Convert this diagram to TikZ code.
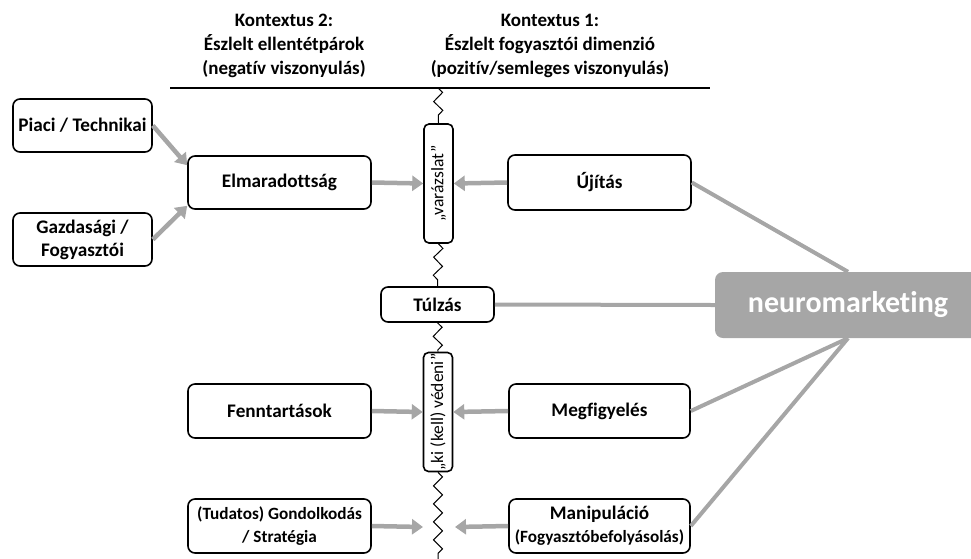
\documentclass[tikz,border=0pt]{standalone}
\usepackage{fontspec}
\setmainfont{Carlito}[Ligatures=NoCommon]
\usetikzlibrary{arrows.meta, decorations.pathmorphing}
\definecolor{LinkGray}{HTML}{A6A6A6}
\definecolor{NeuroGray}{HTML}{A6A6A6}
\newcommand{\smallpart}[1]{{\fontsize{17.2}{23}\selectfont #1}}

\begin{document}
\begin{tikzpicture}[x=1pt, y=-1pt,
        box/.style={draw=black, line width=1.6pt, rounded corners=7pt, fill=white,
                    inner sep=1pt, align=center, font=\fontsize{19.2}{23}\selectfont\bfseries},
        tallbox/.style={draw=black, line width=1.6pt, rounded corners=5pt, fill=white,
                    inner sep=1pt, rotate=90, minimum height=29pt,
                    font=\fontsize{17.5}{18}\selectfont},
        head/.style={align=center, font=\fontsize{19}{24}\selectfont\bfseries},
        flow/.style={draw=LinkGray, line width=4.5pt, -{Triangle[length=11pt,width=15pt]}},
        link/.style={draw=LinkGray, line width=4pt},
        zig/.style={decorate, decoration={zigzag, segment length=18pt, amplitude=4.5pt},
                    line width=1pt}]

        \clip (0,0) rectangle (971,558);

        % Header
        \node[head] (ctx2) at (284,46) {Kontextus 2:\\Észlelt ellentétpárok\\(negatív viszonyulás)};
        \node[head] (ctx1) at (550,46) {Kontextus 1:\\Észlelt fogyasztói dimenzió\\(pozitív/semleges viszonyulás)};
        \coordinate (hdL) at (170,88);
        \coordinate (hdR) at (710,88);
        \draw[line width=1.6pt] (hdL) -- (hdR);

        % Left column
        \node[box, minimum width=139pt, minimum height=53pt] (piaci) at (82.5,125.5) {Piaci / Technikai};
        \node[box, minimum width=139pt, minimum height=53pt] (gazd)  at (82.5,239.5) {Gazdasági /\\Fogyasztói};

        % Context 2 boxes
        \node[box, minimum width=183pt, minimum height=53pt] (elmar) at (279.5,182.5) {Elmaradottság};
        \node[box, minimum width=183pt, minimum height=54pt] (fennt) at (279.5,411)   {Fenntartások};
        \node[box, minimum width=183pt, minimum height=54pt] (gond)  at (279.5,526)   {\smallpart{(Tudatos) Gondolkodás}\\\smallpart{/ Stratégia}};

        % Middle
        \node[tallbox, minimum width=119pt] (varazs) at (438.5,183.5) {„varázslat”};
        \node[box, minimum width=113pt, minimum height=35pt] (tulzas) at (437.5,304.5) {Túlzás};
        \node[tallbox, minimum width=118pt] (kived) at (438,412) {„ki (kell) védeni”};

        % Context 1 boxes
        \node[box, minimum width=183pt, minimum height=55pt] (ujitas) at (599.5,182.5) {Újítás};
        \node[box, minimum width=181pt, minimum height=54pt] (megf)   at (599.5,411)   {Megfigyelés};
        \node[box, minimum width=181pt, minimum height=54pt] (manip)  at (599.5,526)   {Manipuláció\\\smallpart{(Fogyasztóbefolyásolás)}};

        % neuromarketing
        \node[fill=NeuroGray, rounded corners=8pt, minimum width=266pt, minimum height=66pt,
              text=white, font=\fontsize{30}{32}\selectfont\bfseries] (neuro) at (848,305) {neuromarketing};

        % Zigzag border
        \coordinate (zigTop) at (438,88);
        \coordinate (zigBot) at (438,560);
        \draw[zig] (zigTop) -- (varazs.east);
        \draw[zig] (varazs.west) -- (tulzas.north);
        \draw[zig] (tulzas.south) -- (kived.east);
        \draw[zig] (kived.west) -- (zigBot);

        % Arrows
        \coordinate (gondEnd)  at (423,527);
        \coordinate (manipEnd) at (455,527);
        \draw[flow] (piaci.east) -- ([yshift=-10pt]elmar.north west);
        \draw[flow] (gazd.east) -- ([yshift=4pt]elmar.south west);
        \draw[flow] (elmar.east) -- (varazs.north);
        \draw[flow] (ujitas.west) -- (varazs.south);
        \draw[flow] (fennt.east) -- (kived.north);
        \draw[flow] (megf.west) -- (kived.south);
        \draw[flow] (gond.east) -- (gondEnd);
        \draw[flow] (manip.west) -- (manipEnd);

        % Links to neuromarketing
        \draw[link] (ujitas.east) -- (neuro.north);
        \draw[link] (tulzas.east) -- (neuro.west);
        \draw[link] (megf.east) -- (neuro.south);
        \draw[link] (manip.east) -- (neuro.south);
      \end{tikzpicture}
\end{document}
